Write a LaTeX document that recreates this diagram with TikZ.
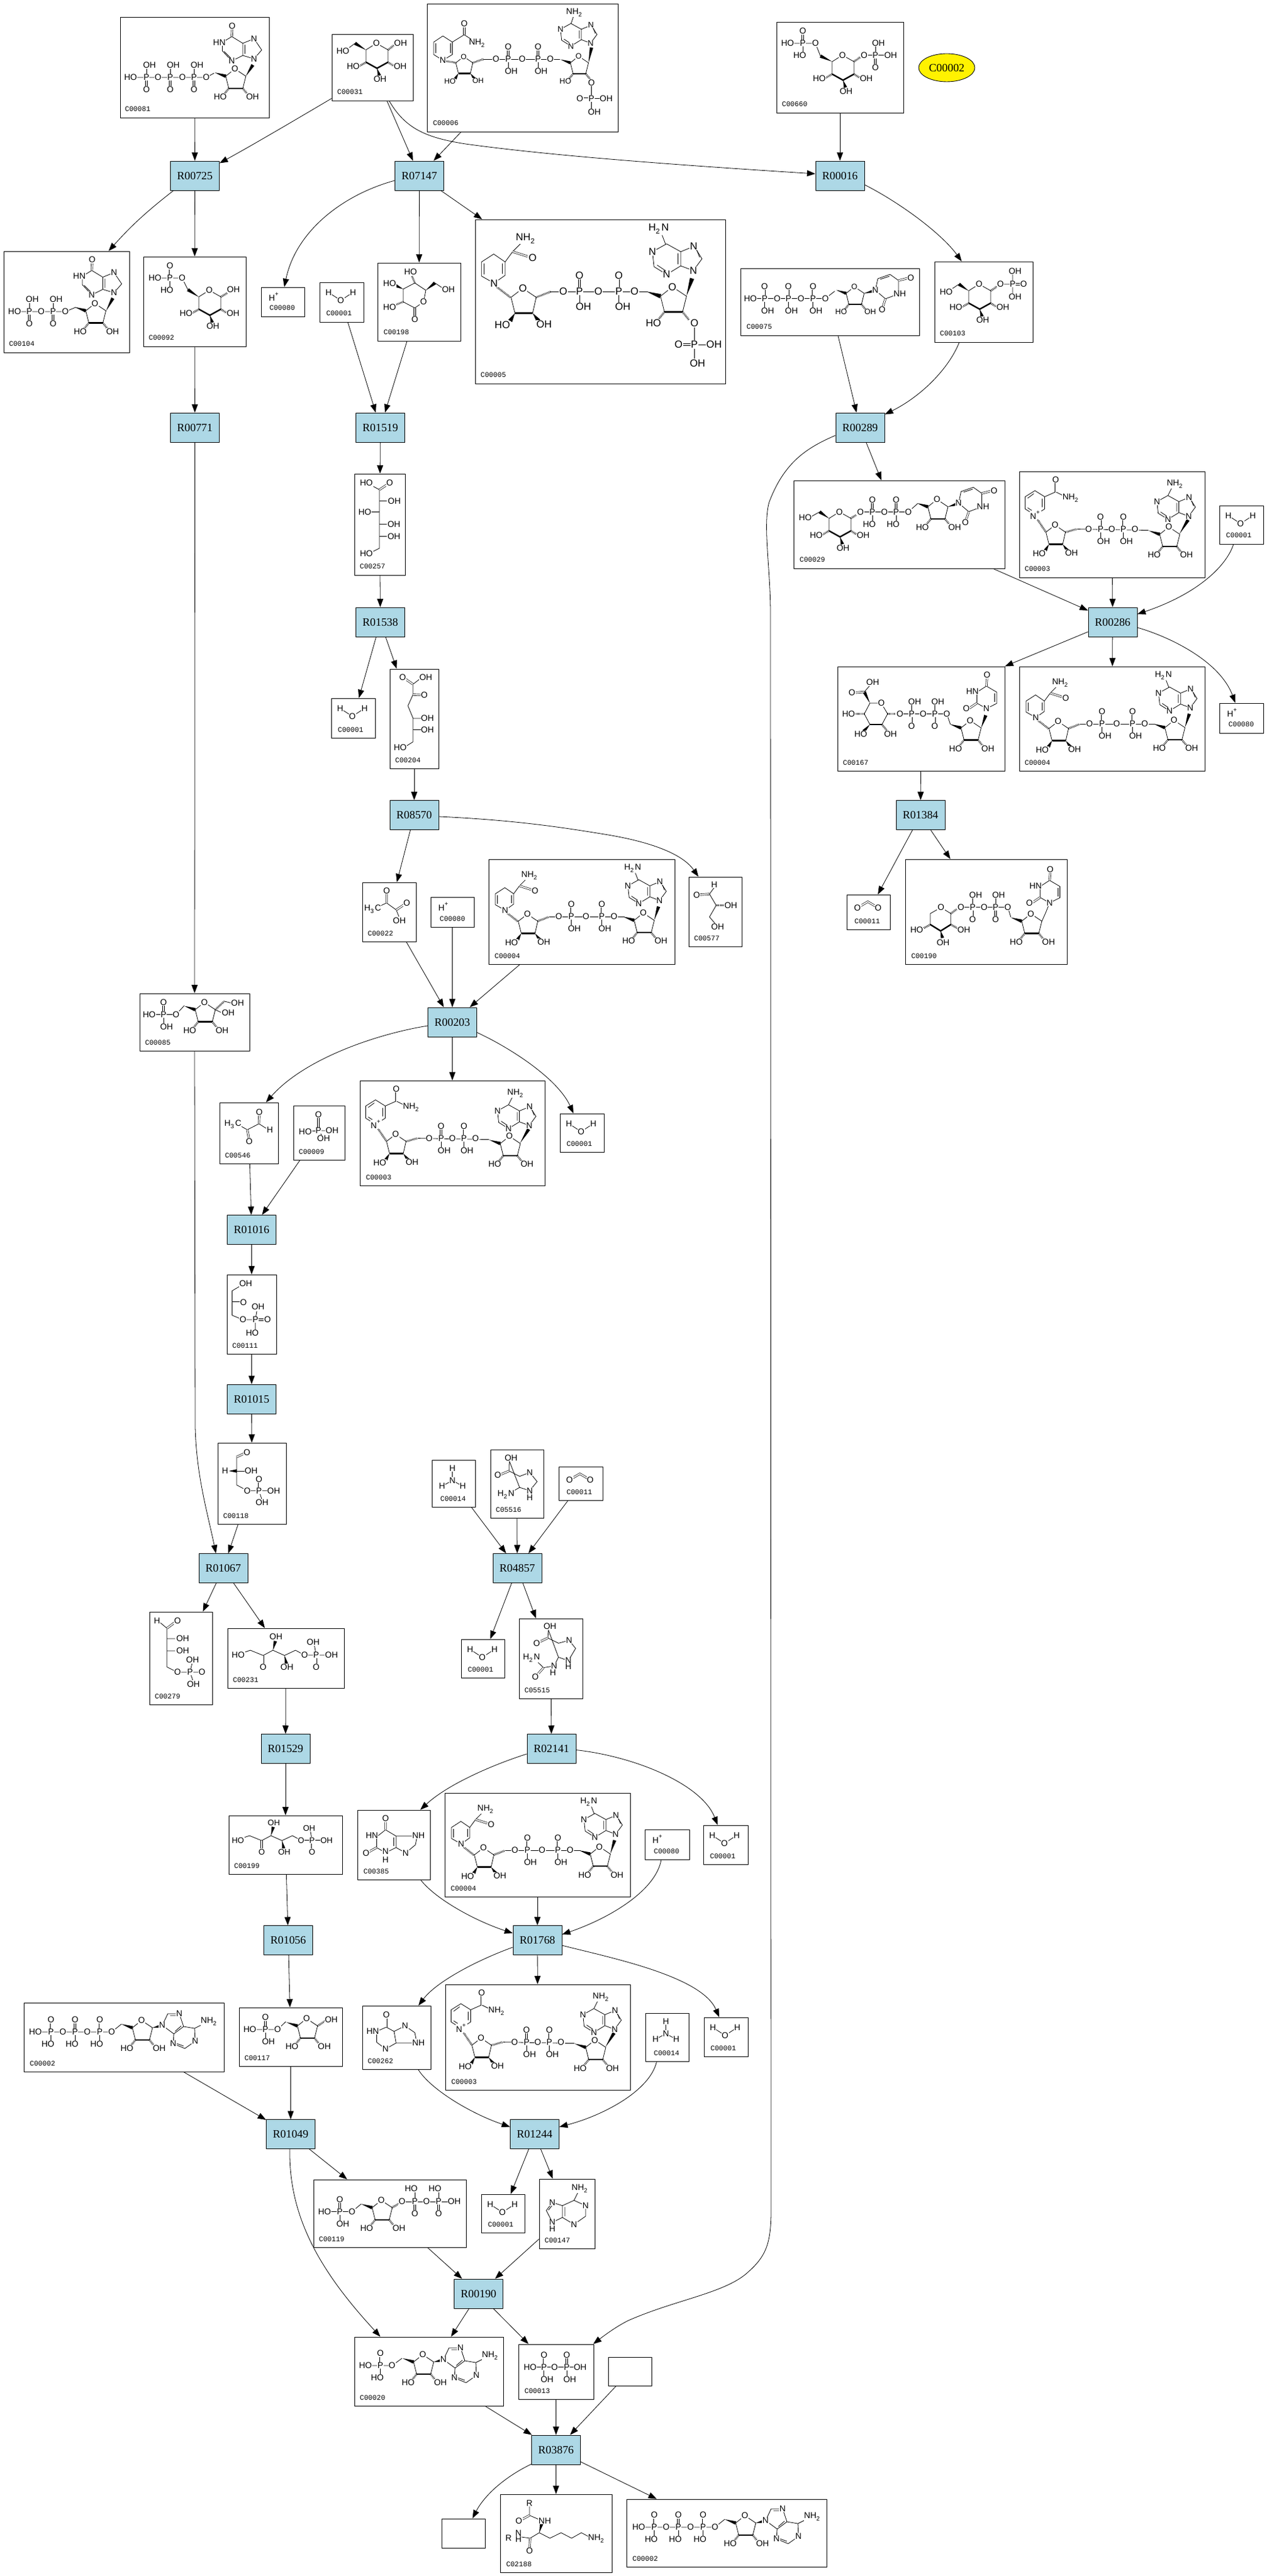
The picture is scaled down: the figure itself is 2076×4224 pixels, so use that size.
\documentclass[tikz,border=0pt]{standalone}
\usepackage{fontspec}
\setmainfont{Liberation Serif}
\setsansfont{Liberation Sans}
\setmonofont{Liberation Mono}
\usetikzlibrary{arrows.meta,calc,shapes.geometric}
\definecolor{rxnblue}{HTML}{ADD8E6}
\newcommand{\nhh}{NH\textsubscript{2}}
\newcommand{\hhn}{H\textsubscript{2}N}
\newcommand{\hhc}{H\textsubscript{3}C}
\newcommand{\atoms}[1]{\foreach \ax/\ay/\atx [count=\an] in {#1}{
    \node[atom] (atm\an) at (\ax,\ay) {\atx}; }}
\newcommand{\wdg}[2]{\fill (#1) -- ($(#2)!.7pt!90:(#1)$) -- ($(#2)!.7pt!-90:(#1)$) -- cycle;}
\newcommand{\phosA}[2]{\draw[bond] (#1,#2)--(#1,#2-15); \draw[dbl] (#1,#2)--(#1,#2+15);
  \atoms{#1+5/#2-20/OH,#1/#2+20/O,#1/#2/P}}
\newcommand{\phosB}[2]{\draw[bond] (#1,#2)--(#1,#2+15); \draw[dbl] (#1,#2)--(#1,#2-15);
  \atoms{#1+5/#2+20/OH,#1/#2-20/O,#1/#2/P}}
\newcommand{\phosC}[2]{\draw[bond] (#1,#2)--(#1,#2+15); \draw[dbl] (#1,#2)--(#1,#2-15);
  \atoms{#1-5/#2+20/HO,#1/#2-20/O,#1/#2/P}}
\newcommand{\phosD}[2]{\draw[bond] (#1,#2)--(#1,#2-15); \draw[dbl] (#1,#2)--(#1,#2+15);
  \atoms{#1-6/#2-21/HO,#1/#2+20/O,#1/#2/P}}
\tikzset{
  bond/.style={line width=.2pt},
  dbl/.style={double,double distance=.5pt,line width=.17pt},
  hash/.style={line width=.8pt,dash pattern=on .2pt off .35pt},
  bold/.style={line width=.6pt},
  atom/.style={font=\sffamily\fontsize{3.5}{4}\selectfont,inner sep=.15pt,fill=white},
  bigatom/.style={atom/.append style={font=\sffamily\fontsize{3.25}{4}\selectfont}},
  cid/.style={font=\ttfamily\fontsize{2.9}{3}\selectfont,inner sep=0pt},
  cpd/.style={draw,rectangle,line width=.22pt,inner sep=0pt},
  rxn/.style={draw,rectangle,fill=rxnblue,line width=.22pt,inner sep=0pt,
    minimum width=20pt,minimum height=12pt,font=\rmfamily\fontsize{4.6}{5}\selectfont},
  rx/.style={-{Triangle[length=3.4pt,width=2.5pt]},line width=.2pt},
  mol/.style={scale=#1,transform shape},
  ribc/.pic={\wdg{-18,-6}{0,0}
    \draw[bond] (0,0)--(15,-12)--(33,0)--(28,20) (5,20)--(0,0);
    \draw[bold] (5,20)--(28,20);
    \draw[hash] (5,20)--(-3,30) (28,20)--(36,30);
    \atoms{15/-12/O,-9/34/HO}},
  rib/.pic={\pic at (0,0) {ribc}; \atoms{44/34/OH}},
  ribL/.pic={\draw[bond] (0,0)--(-17,-11.5)--(-32,0)--(-27,20) (-4.5,20)--(0,0);
    \draw[bold] (-4.5,20)--(-27,20);
    \wdg{-27,20}{-33,30} \wdg{-4.5,20}{3,30}
    \atoms{-17/-11.5/O,-43/35/HO,10/34/OH}},
  adeT/.pic={\draw[bond] (0,0)--(0,18)--(-18,29)--(-34,19)--(-36,0)--(-18,-10)--cycle;
    \draw[bond] (0,0)--(17,-7)--(27,9)--(16,24)--(0,18);
    \draw[bond] (-3.5,2)--(-3.5,16) (20,-3)--(24,7) (-18,25)--(-30,17);
    \atoms{16/24/N,16.5/-7/N,-18/29/N,-36/0/N}},
  ado/.pic={\pic at (0,0) {rib};
    \wdg{33,0}{47,-3}
    \draw[bond] (49,-4)--(58,-23)--(77,-23)--(84,-2)--(68,10)--cycle;
    \draw[bond] (68,10)--(67,26)--(86,34)--(103,22)--(102,1)--(84,-2) (102,1)--(118,-7);
    \draw[bond] (62,-20)--(74,-20) (80,-3)--(70,6) (70,25)--(84,30);
    \atoms{49/-4/N,77/-23/N,67/26/N,103/22/N,126/-10/\nhh}},
  atp/.pic={\draw[bond] (-150,7)--(-34,7)--(-18,-6);
    \phosC{-133.5}{7} \phosC{-94}{7} \phosC{-53.5}{7}
    \atoms{-159/7/HO,-114/7/O,-74/7/O,-34/7/O}
    \pic at (0,0) {ado};},
  hypox/.pic={\draw[bond] (0,0)--(12.5,-14.5)--(0,-33)--(-18.5,-25.5)--(-18.5,-5.5)--cycle;
    \draw[bond] (-18.5,-5.5)--(-36.5,3.5)--(-52,-13)--(-52,-27)--(-36.5,-36.5)--(-18.5,-25.5);
    \draw[bond] (-15,-23)--(-15,-8) (-38,-1)--(-49,-12);
    \draw[dbl] (-36.5,-36.5)--(-36,-50);
    \atoms{0/0/N,0/-33/N,-36.5/3.5/N,-57/-27/HN,-36/-54/O}},
  urac/.pic={\draw[bond] (0,0)--(16.5,14)--(38,6)--(38,-16)--(24,-26)--(4,-19)--cycle;
    \draw[bond] (8,-18)--(23,-23);
    \draw[dbl] (16.5,14)--(12,28) (38,-16)--(54,-20);
    \atoms{0/0/N,40/6/NH,11/32/O,58/-20/O}},
  uracb/.pic={\draw[bond] (0,0)--(-15.5,-9)--(-15.5,-27)--(0,-37)--(17,-27)--(17,-8.6)--cycle;
    \draw[bond] (13.5,-25)--(13.5,-11);
    \draw[dbl] (-15.5,-9)--(-29,0) (0,-37)--(1,-51);
    \atoms{0/0/N,-23/-28/HN,-33/0/O,1/-55/O}},
  pyran/.pic={\draw[bond] (-17,31)--(-17,10.7)--(0,0)--(19,10.7)--(19,31);
    \draw[bold] (-17,31)--(1,41)--(19,31);
    \draw[hash] (19,31)--(28,37) (-17,31)--(-27,37);
    \wdg{1,41}{5,53}
    \atoms{0/0/O,39/38/OH,-38/38/HO,6/59/OH}},
  ketopent/.pic={\draw[bond] (-12,4)--(0,0)--(21,8.5)--(37,0)--(56,8.5)--(74,0)--(89,8)--(125,8);
    \draw[bond] (108,8)--(105,-8);
    \draw[dbl] (21,8.5)--(21,24) (108,8)--(108,24);
    \wdg{37,0}{41,-15} \wdg{56,8.5}{59,22}
    \atoms{-20/8/HO,21/28/O,42/-22/OH,60/28/OH,89/8/O,108/8/P,133/8/OH,103/-13/OH,108/28/O}},
  nadplus/.pic={\draw[bond] (26,32)--(42,42)--(42,62)--(26,72)--(10,62)--(10,42)--cycle;
    \draw[bond] (38,45)--(38,59) (14,44.5)--(24,37) (14,60)--(23,66);
    \draw[bond] (42,42)--(60,34)--(76,42);
    \draw[dbl] (60,34)--(60,18);
    \draw[hash] (28,76)--(44,100) (76,100)--(95,95);
    \draw[bond] (95,95)--(212,97);
    \pic at (76,100) {ribL}; \pic at (230.5,103.6) {rib};
    \wdg{263,103}{277,80}
    \pic at (262,50) {adeT};
    \draw[bond] (244,40)--(250,28);
    \phosB{133.6}{95} \phosB{171}{95}
    \atoms{60/14/O,85/44/\nhh,27/72/N\textsuperscript{+},114/95/O,152/95/O,190/95/O,256/21/\nhh}},
  nadhcore/.pic={\draw[bond] (27,47)--(41.5,57)--(41.5,74)--(27.4,84)--(11.5,75)--(11.5,57)--cycle;
    \draw[bond] (38,59)--(38,72) (15,59)--(15,73);
    \draw[bond] (41.5,57)--(51,44)--(62,33);
    \draw[dbl] (51,44)--(70,50);
    \draw[hash] (30,88)--(48,102) (81,102)--(99,95);
    \draw[bond] (99,95)--(223,95);
    \pic at (81,102) {ribL}; \pic at (239,100.6) {ribc};
    \wdg{272,100}{279,78}
    \pic at (264.7,44) {adeT};
    \draw[bond] (245.6,35)--(241,23);
    \phosB{136}{94} \phosB{186}{94}
    \atoms{68/27/\nhh,76.5/52/O,27.4/84/N,115.4/94/O,160/94/O,206/94/O,236.6/15/\hhn}},
  nadh/.pic={\pic at (0,0) {nadhcore}; \atoms{283/134.6/OH}},
  water/.pic={\draw[bond] (15,17)--(35,30)--(55,17); \atoms{15/17/H,35/30/O,55/17/H}},
  hplus/.pic={\atoms{22/16/H\textsuperscript{+}}},
  cotwo/.pic={\draw[dbl] (18,22)--(35,12)--(52,22); \atoms{18/22/O,52/22/O}},
  ammo/.pic={\draw[bond] (34,34)--(34,14) (34,34)--(17,43.5) (34,34)--(51,43.5);
    \atoms{34/14/H,34/34/N,17/43.5/H,51/43.5/H}}
}
\begin{document}
\begin{tikzpicture}[x=.25pt,y=-.25pt]
  \useasboundingbox (0,0) rectangle (2076,4224);
  % compound boxes: name/left/top/right/bottom/label/margin
  \foreach \nm/\xa/\ya/\xb/\yb/\lab/\lm in {
    c00081/197/28/441/193/C00081/7,c00031/544/56/677/165/C00031/8,
    c00006/700/6/1013/216/C00006/9,c00104/6/412/212/578/C00104/8,
    c00092/235/421/403/568/C00092/8,c00080a/428/471/499/519/C00080/13,
    c00001a/524/463/596/528/C00001/10,c00198/619/431/755/559/C00198/9,
    c00005/779/360/1189/629/C00005/8,c00660/1273/36/1481/185/C00660/8,
    c00103/1532/429/1693/561/C00103/8,c00075/1214/440/1507/550/C00075/9,
    c00029/1301/788/1647/932/C00029/9,c00003a/1671/773/1975/947/C00003/8,
    c00001b/1999/829/2071/892/C00001/10,c00167/1373/1093/1647/1264/C00167/8,
    c00004a/1671/1093/1975/1264/C00004/8,c00080b/1999/1153/2071/1202/C00080/14,
    c00011a/1388/1467/1459/1524/C00011/12,c00190/1484/1409/1749/1581/C00190/9,
    c00257/581/777/664/943/C00257/8,c00001c/543/1145/615/1210/C00001/10,
    c00204/639/1097/719/1260/C00204/8,c00022/594/1447/682/1544/C00022/8,
    c00080c/706/1471/777/1520/C00080/14,c00004b/801/1409/1106/1581/C00004/9,
    c00577/1129/1438/1216/1552/C00577/8,c00085/229/1629/409/1723/C00085/8,
    c00546/360/1808/456/1908/C00546/8,c00009/481/1813/565/1902/C00009/8,
    c00003b/590/1772/893/1944/C00003/9,c00001d/918/1826/990/1889/C00001/10,
    c00111/372/2090/453/2220/C00111/8,c00118/357/2366/469/2499/C00118/8,
    c00014a/708/2394/779/2471/C00014/13,c05516/804/2377/891/2489/C05516/8,
    c00011b/916/2405/988/2460/C00011/12,c00279/245/2643/348/2795/C00279/8,
    c00231/373/2670/564/2768/C00231/8,c00001e/756/2688/827/2751/C00001/10,
    c05515/851/2654/955/2785/C05515/8,c00199/375/2977/561/3073/C00199/8,
    c00385/586/2968/705/3082/C00385/9,c00004c/729/2940/1033/3110/C00004/9,
    c00080d/1057/3000/1130/3049/C00080/14,c00001f/1153/2993/1226/3057/C00001/10,
    c00002a/39/3284/367/3397/C00002/9,c00117/392/3292/561/3388/C00117/8,
    c00262/594/3289/706/3393/C00262/8,c00003c/730/3254/1033/3427/C00003/9,
    c00014b/1058/3301/1129/3380/C00014/13,c00001g/1154/3308/1226/3372/C00001/10,
    c00119/514/3574/764/3685/C00119/8,c00001h/789/3598/860/3661/C00001/10,
    c00147/884/3573/975/3687/C00147/8,c00020/581/3832/825/3945/C00020/8,
    c00013/850/3844/973/3934/C00013/9,c02188/820/4090/1003/4218/C02188/9,
    c00002b/1027/4098/1355/4209/C00002/9}{
      \pgfmathsetmacro\bw{(\xb-\xa)*.25}
      \pgfmathsetmacro\bh{(\yb-\ya)*.25}
      \node[cpd,minimum width=\bw pt,minimum height=\bh pt]
      (\nm) at ({(\xa+\xb)/2},{(\ya+\yb)/2}) {};
      \node[cid,anchor=base west] (l\nm) at (\xa+\lm,\yb-10) {\lab}; }
  \node[cpd,minimum width=17.75pt,minimum height=11.75pt] (blanka) at (1032.5,3888.5) {};
  \node[cpd,minimum width=17.75pt,minimum height=12pt] (blankb) at (759.5,4154) {};
  \node[rxn,ellipse,fill=yellow,minimum width=23pt,minimum height=11.5pt] (c00002) at (1552,111) {C00002};
  % reaction nodes
  \foreach \lab/\x/\y in {R00725/319.5/288,R07147/687.5/288,R00016/1377/288,R00771/319.5/701,
    R01519/623.5/701,R00289/1410/701,R01538/623.5/1020,R00286/1824/1020,R01384/1509/1336.5,
    R08570/679/1336.5,R00203/741.5/1676,R01016/412.5/2016.5,R01015/412.5/2294,R01067/366/2571.5,
    R04857/848/2571.5,R01529/468/2867.5,R02141/904/2867.5,R01056/472.5/3181.5,R01768/881/3181.5,
    R01049/476.5/3499.5,R01244/876.5/3499.5,R00190/784.5/3761,R03876/911.5/4017}{
      \node[rxn] (\lab) at (\x,\y) {\lab}; }
  % repeated small molecules
  \foreach \nm in {c00001a,c00001b,c00001c,c00001d,c00001e,c00001f,c00001g,c00001h}{
    \pic at (\nm.north west) {water}; }
  \foreach \nm in {c00080a,c00080b,c00080c,c00080d}{\pic at (\nm.north west) {hplus};}
  \foreach \nm in {c00011a,c00011b}{\pic at (\nm.north west) {cotwo};}
  \foreach \nm in {c00014a,c00014b}{\pic at (\nm.north west) {ammo};}
  \foreach \nm in {c00003a,c00003b,c00003c}{\pic at (\nm.north west) {nadplus};}
  \foreach \nm in {c00004a,c00004b,c00004c}{\pic at (\nm.north west) {nadh};}
  \pic at (217,3325) {atp};
  \pic at (1206,4137) {atp};
  % C00081, C00104
  \draw[bond] (224,127)--(338,127)--(351,120);
  \phosA{240}{127} \phosA{279}{127} \phosA{318}{127}
  \atoms{214/127/HO,259/127/O,299/127/O,338/127/O}
  \pic at (370,125) {rib};
  \wdg{403,125}{414.5,106.5}
  \pic at (416.5,96.5) {hypox};
  \draw[bond] (34,511)--(107,511)--(124,504);
  \phosA{48}{511} \phosA{87}{511}
  \atoms{24/511/HO,67.6/511/O,107/511/O}
  \pic at (140.6,509.6) {rib};
  \wdg{174,509.6}{185,489}
  \pic at (187,480) {hypox};
  % C00031, C00092, C00660, C00103, C00198
  \pic at (617,71) {pyran};
  \wdg{600,82}{582,71}
  \draw[bond] (582,71)--(570,80);
  \draw[hash] (636,82)--(646,74);
  \atoms{562/83.6/HO,656.6/71/OH}
  \pic at (343,476) {pyran};
  \wdg{326,487}{308,475}
  \draw[bond] (308,475)--(298.5,456)--(264,456);
  \phosC{278.6}{456}
  \draw[hash] (362,487)--(373,480);
  \atoms{298.5/456/O,254/456/HO,382.7/475/OH}
  \pic at (1381,90.5) {pyran};
  \wdg{1364,101}{1345,92}
  \draw[bond] (1345,92)--(1336.7,71)--(1300,71) (1416.6,90.5)--(1450,90.5);
  \phosC{1316}{71}
  \draw[hash] (1400,101)--(1410,94);
  \phosA{1435}{90.5}
  \atoms{1336.7/71/O,1291/71/HO,1416.6/90.5/O,1460/90.5/OH}
  \pic at (1605,466) {pyran};
  \wdg{1588,477}{1572,466}
  \draw[bond] (1572,466)--(1560,474) (1640,466)--(1660,466) (1660,450)--(1660,482);
  \draw[dbl] (1660,466)--(1675,466);
  \draw[hash] (1624,477)--(1634,470);
  \atoms{1551/479/HO,1640/466/O,1660/466/P,1678/466/O,1664/444.4/OH,1664/486.7/OH}
  \draw[bond] (680,464)--(698,476)--(694.4,495)--(680,505)--(661,495)--(661,474)--cycle;
  \wdg{698,476}{713,464}
  \draw[bond] (713,464)--(725,472);
  \draw[hash] (680,464)--(675,452) (661,495)--(648,500);
  \wdg{661,474}{648,468}
  \draw[dbl] (680,505)--(680,520);
  \atoms{673/446/HO,735/475/OH,638.7/465/HO,638.7/504/HO,694.4/495/O,680/524/O}
  % C00006
  \draw[bond] (726,59)--(741.5,69)--(741.5,89.5)--(726,99)--(711,89.5)--(711,69)--cycle;
  \draw[bond] (738,71)--(738,87) (714,71)--(714,87);
  \draw[bond] (741.5,69)--(761,57)--(775,66);
  \draw[dbl] (761,57)--(761,43);
  \draw[hash] (730,100)--(748,103) (775,103)--(792.6,97);
  \draw[bond] (792.6,97)--(918,97);
  \pic[mol=.87] at (775,103) {ribL};
  \pic[mol=.9] at (935,103) {ribc};
  \wdg{964.7,103}{969.6,78}
  \pic[mol=.95] at (953,48) {adeT};
  \draw[bond] (936,39)--(940,27) (969.6,138)--(969.6,180) (969.6,161.6)--(985,161.6);
  \draw[dbl] (969.6,161.6)--(955,161.6);
  \phosB{833}{97} \phosB{882}{97}
  \atoms{761/39/O,782.6/71/\nhh,726/99/N,813/97/O,856/97/O,902/97/O,942/20.6/\nhh,
    969.6/135.5/O,969.6/161.6/P,950.5/161.6/O,993.6/161.6/OH,974.3/183.7/OH}
  % C00005
  \pic[mol=1.29,bigatom] at (774.5,356) {nadhcore};
  \begin{scope}[shift={(774.5,356)},mol=1.29,bigatom]
    \draw[bond] (282,135)--(282,180) (282,162)--(300,162);
    \draw[dbl] (282,162)--(266,162);
    \atoms{282/135/O,282/162/P,262/162/O,307/162/OH,286/186/OH}
  \end{scope}
  % C00075, C00029
  \draw[bond] (1240,489.4)--(1353,489.4)--(1368.4,477.5);
  \phosB{1253.4}{489.4} \phosB{1292.4}{489.4} \phosB{1332.7}{489.4}
  \atoms{1230/489.4/HO,1274/489.4/O,1313/489.4/O,1353/489.4/O}
  \pic[mol=.9] at (1387,481) {rib};
  \wdg{1416.7,481}{1433,477}
  \pic at (1435,476) {urac};
  \pic at (1376,839.4) {pyran};
  \wdg{1359,850}{1343.6,839.4}
  \draw[bond] (1343.6,839.4)--(1330,847);
  \draw[hash] (1395,850)--(1404,844);
  \draw[bond] (1410.6,839.4)--(1489,839.4)--(1504,826);
  \phosC{1430}{839.4} \phosC{1469}{839.4}
  \atoms{1320/848.6/HO,1410.6/839.4/O,1449.7/839.4/O,1489/839.4/O}
  \pic at (1521,831) {rib};
  \wdg{1554,831}{1570,826}
  \pic at (1571.5,825) {urac};
  % C00167
  \draw[bond] (1426,1153)--(1444.7,1153)--(1455,1170.6)--(1445.8,1188) (1426,1188)--(1416.8,1170.6)--(1426,1153);
  \draw[bold] (1426,1188)--(1445.8,1188);
  \wdg{1426,1153}{1416.8,1134.5}
  \draw[dbl] (1416.8,1134.5)--(1400,1136);
  \draw[bond] (1416.8,1134.5)--(1426,1124);
  \draw[hash] (1416.8,1170.6)--(1402,1170.6) (1445.8,1188)--(1454,1198) (1455,1170.6)--(1468,1170.6);
  \wdg{1426,1188}{1416,1199}
  \draw[bond] (1475.4,1170.6)--(1552,1170.6)--(1558,1188);
  \phosA{1494.4}{1170.6} \phosA{1532.4}{1170.6}
  \atoms{1444.7/1153/O,1430.7/1119/OH,1396.6/1136/O,1391/1170.6/HO,1411/1204/HO,1459.8/1204/OH,
    1475.4/1170.6/O,1513.4/1170.6/O,1552/1170.6/O}
  \pic at (1575.4,1193.6) {rib};
  \wdg{1608.4,1193.6}{1616,1173}
  \pic at (1617,1162) {uracb};
  % C00190
  \draw[bond] (1558.7,1516)--(1558.7,1498)--(1542.5,1488)--(1525,1498)--(1525,1516);
  \draw[bold] (1525,1516)--(1542,1526.5)--(1558.7,1516);
  \draw[hash] (1525,1516)--(1514,1522) (1558.7,1516)--(1569,1522) (1558.7,1498)--(1568,1491);
  \wdg{1542,1526.5}{1545,1538}
  \draw[bond] (1575.4,1487.5)--(1652,1487.5)--(1657,1504);
  \phosA{1594.4}{1487.5} \phosA{1632}{1487.5}
  \atoms{1542.5/1488/O,1502.8/1525/HO,1580/1525/OH,1546/1545.5/OH,1575.4/1487.5/O,1613.4/1487.5/O,1652/1487.5/O}
  \pic at (1674.9,1510.5) {rib};
  \draw[bond] (1708,1510.5)--(1714,1497)--(1720.6,1480.6);
  \pic at (1720.6,1480.6) {uracb};
  % C00257, C00204, C00022, C00577
  \draw[bond] (622,803)--(622,899)--(610,905) (622,821.6)--(634,821.6) (622,839.4)--(609,839.4)
    (622,859.5)--(634,859.5) (622,879.6)--(634,879.6) (622,803)--(609,796);
  \draw[dbl] (622,803)--(634,795);
  \atoms{600.5/792/HO,638.8/792/O,646.4/821.6/OH,598/839.4/HO,645.8/859.5/OH,645.8/879.6/OH,600.5/908/HO}
  \draw[bond] (690,1112)--(677,1122)--(677,1139)--(668.7,1157.4)--(677,1177.5)--(677,1216.5)--(665,1224)
    (677,1178)--(690,1178) (677,1196.5)--(690,1196.5);
  \draw[dbl] (677,1122)--(664,1113) (677,1139)--(692,1139.6);
  \atoms{660/1111/O,698/1111/OH,695.6/1139.6/O,700.6/1178/OH,700.6/1196.5/OH,656/1225.7/HO}
  \draw[bond] (620,1487)--(633.7,1480.6)--(649.6,1492)--(654,1503);
  \draw[dbl] (633.7,1480.6)--(633.7,1465) (649.6,1492)--(663,1483);
  \atoms{633.7/1460.5/O,611/1490.4/\hhc,666.8/1481/O,654.7/1510/OH}
  \draw[dbl] (1163,1466)--(1147,1467);
  \draw[bond] (1171,1455)--(1163,1466)--(1174,1484.6)--(1163,1503.6)--(1172,1514);
  \draw[hash] (1174,1484.6)--(1186,1484.6);
  \atoms{1171/1450.8/H,1142/1467.4/O,1198/1484.6/OH,1176.4/1519.6/OH}
  % C00085, C00546, C00009, C00111, C00118
  \draw[bond] (254,1663.6)--(288.6,1663.6)--(302,1649);
  \phosB{268}{1663.6}
  \atoms{244.6/1663.6/HO,288.6/1663.6/O}
  \pic at (320,1655.6) {rib};
  \draw[hash] (353,1655.6)--(367.7,1641.8);
  \draw[bond] (367.7,1641.8)--(380,1645) (353,1655.6)--(362,1660);
  \atoms{389.4/1645/OH,374/1661/OH}
  \draw[bond] (392,1845)--(405.4,1852.5)--(424.5,1842.7)--(436,1850);
  \draw[dbl] (405.4,1852.5)--(408,1867) (424.5,1842.7)--(425,1828);
  \atoms{381.8/1843.3/\hhc,408.5/1871.4/O,425/1823.8/O,442.3/1852.5/H}
  \draw[bond] (522,1854)--(507,1855) (522,1854)--(536,1854) (522,1854)--(528,1862);
  \draw[dbl] (522,1854)--(522,1832);
  \atoms{522/1827.8/O,522/1854/P,500.4/1855.4/HO,544.4/1854/OH,530.4/1867/OH}
  \draw[bond] (395,2108)--(380.5,2116.6)--(380.5,2156.7)--(398.3,2164)--(418.7,2164)--(418.7,2180) (418.7,2164)--(421,2150);
  \draw[dbl] (380.5,2135.5)--(396,2135.5) (418.7,2164)--(435,2164);
  \atoms{402.8/2105/OH,399/2135.5/O,398.3/2164/O,418.7/2164/P,438.5/2164/O,423/2143/OH,413.6/2185.4/HO}
  \draw[dbl] (388,2389)--(401,2383);
  \draw[bond] (388,2389)--(388,2435)--(405.4,2444.3)--(440,2444.3);
  \draw[bond] (424.5,2444.3)--(429,2458);
  \draw[dbl] (424.5,2444.3)--(424.5,2429);
  \wdg{375,2412}{388,2412}
  \draw[bond] (388,2412)--(402,2412);
  \atoms{404.7/2381.8/O,369/2412/H,411.7/2412/OH,405.4/2444.3/O,424.5/2444.3/P,424.5/2425.4/O,448.7/2444.3/OH,429.6/2464/OH}
  % C05516, C05515
  \draw[bond] (835,2396)--(834.6,2412)--(851.8,2420.8)--(868.4,2414.5)--(880.5,2429.4)--(868.4,2444.3)--(851.8,2439)--cycle;
  \draw[bond] (851.8,2439)--(838,2447);
  \draw[dbl] (834.6,2412)--(820,2418);
  \atoms{837.8/2390.4/OH,816/2418.5/O,868.4/2414.5/N,868.4/2444.3/N,868.4/2455.8/H,829.5/2450.6/\hhn}
  \draw[bond] (899,2673)--(898,2685.8)--(915.5,2694.4)--(933,2689.8)--(943.6,2703)--(931.7,2723)--(915.5,2717.4)--cycle;
  \draw[bond] (915.5,2717.4)--(908.5,2731.7)--(891,2734.6)--(879,2723);
  \draw[dbl] (898,2685.8)--(883,2693) (891,2734.6)--(880,2747);
  \atoms{901.5/2666.9/OH,879.7/2694.4/O,933/2689.8/N,931.7/2723/N,931.7/2733/H,908.5/2731.7/N,
    906.4/2743/H,877.6/2750/O,871.3/2718.5/\hhn}
  % C00279, C00231, C00199
  \draw[bond] (263,2661)--(273.7,2670)--(273.7,2733.5)--(291,2742)--(325,2742) (273.7,2687)--(287,2687) (273.7,2707)--(287,2707)
    (311.5,2742)--(315,2727) (311.5,2742)--(316,2755);
  \draw[dbl] (273.7,2670)--(287,2660);
  \atoms{257.5/2658/H,291/2658/O,299.6/2687/OH,299.6/2707/OH,291/2742/O,311.5/2742/P,331/2742/O,315.7/2722/OH,317/2761.6/OH}
  \pic at (410.4,2706) {ketopent};
  \pic[mol=.95] at (409,3010) {ketopent};
  % C00117, C00119, C00020
  \draw[bond] (419,3328)--(455,3328)--(468.5,3315);
  \phosB{435}{3328}
  \atoms{409.6/3328/HO,455/3328/O}
  \pic at (487.6,3322) {rib};
  \draw[hash] (520.6,3322)--(533,3314);
  \atoms{543/3312/OH}
  \draw[bond] (542,3626.5)--(577,3626.5)--(592,3614);
  \phosB{557}{3626.5}
  \atoms{532/3626.5/HO,577/3626.5/O}
  \pic at (610,3620) {rib};
  \draw[hash] (643,3620)--(659,3610);
  \draw[bond] (659,3610)--(735,3610);
  \phosD{680}{3610} \phosD{719}{3610}
  \atoms{659/3610/O,699/3610/O,744.6/3610/OH}
  \draw[bond] (609,3879)--(642.6,3879)--(659,3867);
  \phosC{623.6}{3879}
  \atoms{599/3879/HO,642.6/3879/O}
  \pic at (678,3873) {ado};
  % C00385, C00262, C00147, C00013, C02188
  \draw[bond] (632,3000.4)--(649.3,3010.7)--(649.3,3029.5)--(632,3038)--(617.4,3029.5)--(617.4,3012)--cycle;
  \draw[bond] (649.3,3010.7)--(677,3010.7) (649.3,3029.5)--(665,3038.4)--(681,3025)--(683,3015);
  \draw[bond] (645.5,3013)--(645.5,3027);
  \draw[dbl] (632,3000.4)--(632,2986) (617.4,3029.5)--(604,3037);
  \atoms{632/2982/O,609.7/3010/HN,600/3038.4/O,632/3036/N,632/3050/H,686/3010/NH,665/3038.4/N}
  \draw[bond] (633.3,3324)--(617.4,3331)--(617.4,3348.7)--(632,3359.8)--(649.3,3350)--(676,3350);
  \draw[bond] (633.3,3324)--(646,3331)--(664,3322)--(680,3333)--(682,3343) (646,3331)--(649.3,3350);
  \draw[dbl] (633.3,3324)--(633.3,3308);
  \atoms{633.3/3304/O,611/3331/HN,632/3359.8/N,664/3322/N,686/3349.6/NH}
  \draw[bond] (941,3608)--(960,3616.7)--(960,3634)--(941,3647.4)--(922,3636)--(922,3616.7)--cycle;
  \draw[bond] (922,3616.7)--(905.5,3611.5)--(895.5,3624.6)--(905.5,3644)--(922,3636) (941,3608)--(947,3596);
  \draw[bond] (926,3619)--(926,3634) (906,3615)--(899,3624);
  \atoms{951/3588.6/\nhh,960/3616.7/N,941/3647.4/N,905.5/3611.5/N,905.5/3644/N,905.5/3654.6/H}
  \draw[bond] (869,3881.3)--(951,3881.3);
  \phosB{891.8}{3881.3} \phosB{929}{3881.3}
  \atoms{869/3881.3/HO,909/3881.3/O,951/3881.3/OH}
  \draw[bond] (868,4110)--(868,4124.5)--(889,4133.6) (855,4160)--(869,4162)--(884,4153)
    (884,4153)--(901.4,4162)--(919.8,4153)--(937,4162)--(953,4153)--(968,4161);
  \wdg{884,4153}{888,4138}
  \draw[dbl] (868,4124.5)--(854,4132) (869,4162)--(868,4179);
  \atoms{868/4104.6/R,850.5/4133.6/O,893/4133.6/NH,833.7/4162/R,849.8/4154/N,849.8/4164/H,868/4183/O,978/4163/\nhh}
  % connectors that run straight between two nodes
  \foreach \src/\dst in {c00081/R00725,c00031/R07147,c00006/R07147,R00725/c00092,R07147/c00198,
    R07147/c00005,c00092/R00771,c00001a/R01519,c00198/R01519,c00660/R00016,c00075/R00289,
    R00289/c00029,c00003a/R00286,R00286/c00004a,c00167/R01384,R01384/c00011a,R01384/c00190,
    R00771/c00085,R01519/c00257,c00257/R01538,R01538/c00001c,R01538/c00204,c00204/R08570,
    R08570/c00022,c00022/R00203,c00080c/R00203,c00004b/R00203,R00203/c00003b,c00546/R01016,
    c00009/R01016,R01016/c00111,c00111/R01015,R01015/c00118,c00118/R01067,c00014a/R04857,
    c05516/R04857,c00011b/R04857,R01067/c00279,R01067/c00231,c00231/R01529,R01529/c00199,
    c00199/R01056,R04857/c00001e,R04857/c05515,c05515/R02141,c00004c/R01768,R01768/c00003c,
    R01056/c00117,c00002a/R01049,c00117/R01049,R01049/c00119,R01244/c00001h,R01244/c00147,
    c00119/R00190,c00147/R00190,R00190/c00020,R00190/c00013,c00020/R03876,c00013/R03876,
    blanka/R03876,R03876/c02188,R03876/c00002b}{
      \draw[rx] (\src) -- (\dst); }
  % curved connectors
  \draw[rx] ($(c00031.south west)+(0,-4)$) .. controls (470,205) and (410,240) .. ($(R00725.north east)+(0,4)$);
  \draw[rx] ($(c00031.south)+(27.5,0)$) .. controls (665,212) and (700,226) .. (763,236)
    .. controls (900,255) and (1100,270) .. ($(R00016.west)+(0,-3)$);
  \draw[rx] ($(R00725.south)+(-35,0)$) to[bend right=5] ($(c00104.north)+(69,0)$);
  \draw[rx] ($(R07147.west)+(0,8)$) .. controls (560,320) and (485,380) .. ($(c00080a.north)+(2.5,0)$);
  \draw[rx] ($(R00016.east)+(0,15)$) .. controls (1480,335) and (1545,385) .. ($(c00103.north)+(-36,0)$);
  \draw[rx] ($(c00103.south)+(-40,0)$) .. controls (1555,605) and (1510,650) .. ($(R00289.north east)+(0,3)$);
  \draw[rx] ($(R00289.west)+(0,13)$) .. controls (1320,735) and (1285,760) .. (1261,823)
    .. controls (1250,860) and (1263,930) .. (1263,1007) -- (1264,3631)
    .. controls (1263,3680) and (1255,3700) .. (1227,3725)
    .. controls (1190,3760) and (1110,3770) .. (1030,3805)
    .. controls (1010,3815) and (990,3830) .. ($(c00013.north east)+(-1,0)$);
  \draw[rx] ($(c00029.south)+(154,0)$) -- ($(R00286.west)+(0,-19)$);
  \draw[rx] ($(c00001b.south)+(-13,0)$) .. controls (2010,930) and (1960,975) .. ($(R00286.east)+(0,-13)$);
  \draw[rx] ($(R00286.west)+(0,16)$) -- (c00167.north east);
  \draw[rx] ($(R00286.east)+(0,9)$) .. controls (1920,1045) and (2000,1085) .. ($(c00080b.north)+(-10,0)$);
  \draw[rx] ($(R08570.east)+(0,2.5)$) .. controls (850,1345) and (930,1358) .. (997,1369)
    .. controls (1050,1378) and (1115,1395) .. ($(c00577.north)+(-27.5,0)$);
  \draw[rx] (c00085.south) -- (320,2340) .. controls (322,2420) and (340,2480) .. ($(R01067.north)+(-12,0)$);
  \draw[rx] ($(R00203.west)+(0,6)$) .. controls (620,1695) and (500,1735) .. ($(c00546.north)+(28,0)$);
  \draw[rx] ($(R00203.east)+(0,17)$) .. controls (840,1720) and (915,1770) .. ($(c00001d.north)+(-14,0)$);
  \draw[rx] ($(R02141.west)+(0,8.5)$) .. controls (810,2893) and (735,2925) .. ($(c00385.north)+(43.5,0)$);
  \draw[rx] ($(R02141.east)+(0,2)$) .. controls (1040,2880) and (1150,2925) .. ($(c00001f.north)+(-13,0)$);
  \draw[rx] ($(c00385.south)+(44,0)$) .. controls (715,3115) and (780,3150) .. ($(R01768.west)+(0,-11.5)$);
  \draw[rx] ($(c00080d.south)+(-9.5,0)$) .. controls (1075,3100) and (1000,3145) .. ($(R01768.east)+(0,-9.5)$);
  \draw[rx] ($(R01768.west)+(0,11.5)$) .. controls (780,3215) and (715,3250) .. ($(c00262.north)+(36,0)$);
  \draw[rx] ($(R01768.east)+(0,8.5)$) .. controls (1000,3210) and (1150,3240) .. ($(c00001g.north)+(-11,0)$);
  \draw[rx] ($(c00262.south)+(35.6,0)$) .. controls (705,3425) and (770,3465) .. ($(R01244.west)+(0,-12)$);
  \draw[rx] ($(c00014b.south)+(-17,0)$) .. controls (1065,3430) and (985,3470) .. ($(R01244.east)+(0,-12)$);
  \draw[rx] ($(R01049.south)+(-1.5,0)$) .. controls (473,3640) and (530,3730) .. ($(c00020.north)+(-79.5,0)$);
  \draw[rx] ($(R03876.west)+(0,23.5)$) .. controls (830,4060) and (795,4090) .. ($(blankb.north)+(15,0)$);
\end{tikzpicture}
\end{document}
